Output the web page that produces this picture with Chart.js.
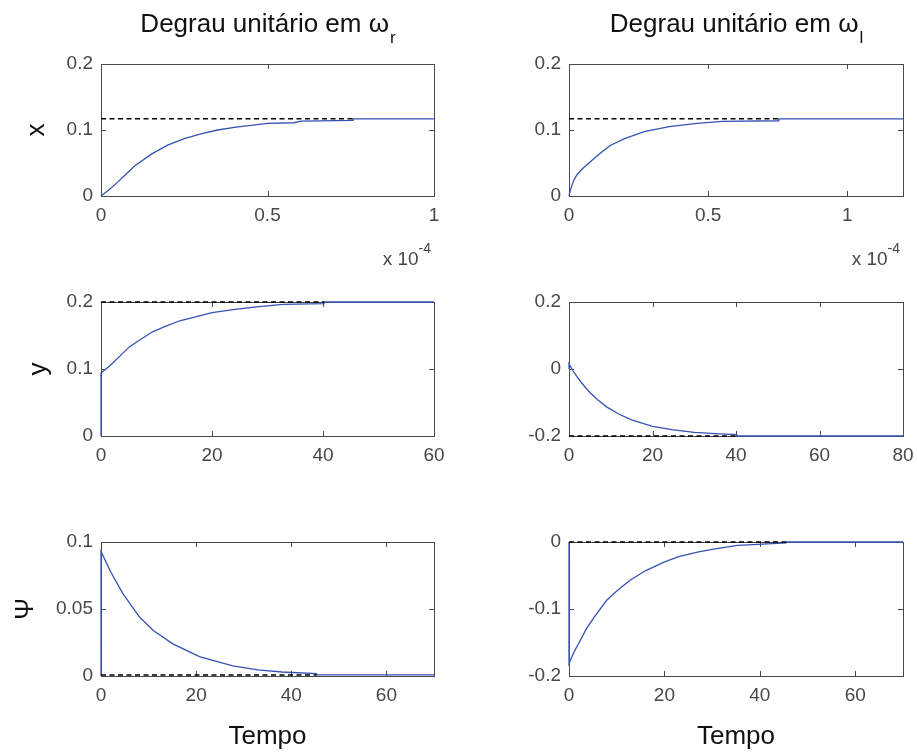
<!DOCTYPE html>
<html>
<head>
<meta charset="utf-8">
<script src="https://cdn.jsdelivr.net/npm/chart.js@4/dist/chart.umd.min.js"></script>
<style>
html, body { margin: 0; padding: 0; background: #fff; }
#wrap { position: relative; width: 917px; height: 753px; overflow: hidden; }
canvas { position: absolute; }
</style>
</head>
<body>
<div id="wrap"></div>
<script>
// time on the top row is in units of 1e-4 (see the "x 10^-4" note)
const xWrT = [0, 0.025, 0.05, 0.075, 0.1, 0.15, 0.2, 0.25, 0.3, 0.35, 0.4, 0.45, 0.5, 0.58, 0.6, 0.757, 0.757, 1.0];
const xWrV = [0, 0.010, 0.021, 0.033, 0.045, 0.063, 0.077, 0.087, 0.094, 0.100, 0.104, 0.107, 0.110, 0.111, 0.1135, 0.1145, 0.117, 0.117];
const xWrRefT = [0, 0.757];
const xWrRefV = [0.117, 0.117];

const xWlT = [0, 0.005, 0.012, 0.02, 0.03, 0.05, 0.08, 0.11, 0.148, 0.2, 0.27, 0.36, 0.46, 0.55, 0.754, 0.754, 1.2];
const xWlV = [0, 0.009, 0.018, 0.026, 0.033, 0.042, 0.053, 0.064, 0.0765, 0.087, 0.0975, 0.105, 0.110, 0.113, 0.114, 0.117, 0.117];
const xWlRefT = [0, 0.754];
const xWlRefV = [0.117, 0.117];

const yWrT = [0, 0, 1.5, 3.3, 5.1, 6.9, 9.3, 11.7, 14.2, 17.2, 20, 23.8, 28, 32.8, 40.2, 40.2, 60];
const yWrV = [0, 0.094, 0.104, 0.1185, 0.133, 0.143, 0.1555, 0.164, 0.172, 0.178, 0.184, 0.1886, 0.1926, 0.1965, 0.1975, 0.2, 0.2];
const yWrRefT = [0, 40.2];
const yWrRefV = [0.2, 0.2];

const yWlT = [0, 0, 1, 2, 3, 4, 5, 7, 9, 12, 15, 20, 25, 30, 35, 40.2, 40.2, 80];
const yWlV = [0, 0.015, -0.006, -0.024, -0.041, -0.056, -0.070, -0.093, -0.113, -0.135, -0.152, -0.171, -0.182, -0.189, -0.193, -0.196, -0.2, -0.2];
const yWlRefT = [0, 40.2];
const yWlRefV = [-0.2, -0.2];

const psiWrT = [0, 0, 2, 4.6, 8.1, 11, 15.1, 20.7, 27.7, 33, 38, 45.3, 45.3, 70];
const psiWrV = [0, 0.093, 0.078, 0.0615, 0.044, 0.034, 0.024, 0.0145, 0.0075, 0.0045, 0.003, 0.0017, 0.0008, 0.0008];
const psiWrRefT = [0, 45.3];
const psiWrRefV = [0.0008, 0.0008];

const psiWlT = [0, 0, 1, 3.7, 5.5, 7.9, 10, 12.8, 16, 19.9, 23, 26.9, 30, 35.3, 38.5, 45.5, 45.5, 70];
const psiWlV = [0, -0.1815, -0.165, -0.129, -0.110, -0.087, -0.073, -0.057, -0.043, -0.030, -0.022, -0.015, -0.011, -0.005, -0.004, -0.0015, 0, 0];
const psiWlRefT = [0, 45.5];
const psiWlRefV = [0, 0];

// tick labels
const tTicksTop = [0, 0.5, 1];
const tTicks60 = [0, 20, 40, 60];
const tTicks80 = [0, 20, 40, 60, 80];
const xTicks = [0, 0.1, 0.2];
const yTicksWr = [0, 0.1, 0.2];
const yTicksWl = [-0.2, 0, 0.2];
const psiTicksWr = [0, 0.05, 0.1];
const psiTicksWl = [-0.2, -0.1, 0];

const headings = ['Degrau unitário em ω', 'Degrau unitário em ω'];
const headingSubs = ['r', 'l'];
const rowLabels = ['x', 'y', 'Ψ'];
const timeLabel = 'Tempo';

const FONT = '"Liberation Sans", Arial, Helvetica, sans-serif';
const BLUE = '#3552b2';
const TICKCOL = '#474747';

const fmt = v => String(Math.round(v * 1e6) / 1e6);
const pts = (t, v) => t.map((x, i) => ({x: x, y: v[i]}));

// box, inward ticks, heading and exponent note
const framePlugin = {
    id: 'frame',
    beforeDatasetsDraw(chart, args, opts) {
        const {ctx, chartArea: a, scales} = chart;
        ctx.save();
        ctx.strokeStyle = '#4a4a4a';
        ctx.lineWidth = 1;
        ctx.strokeRect(a.left + 0.5, a.top + 0.5, a.right - a.left, a.bottom - a.top);
        ctx.beginPath();
        scales.x.ticks.forEach(t => {
            const px = Math.round(scales.x.getPixelForValue(t.value)) + 0.5;
            ctx.moveTo(px, a.bottom); ctx.lineTo(px, a.bottom - 5);
            ctx.moveTo(px, a.top); ctx.lineTo(px, a.top + 5);
        });
        scales.y.ticks.forEach(t => {
            const py = Math.round(scales.y.getPixelForValue(t.value)) + 0.5;
            ctx.moveTo(a.left, py); ctx.lineTo(a.left + 5, py);
            ctx.moveTo(a.right, py); ctx.lineTo(a.right - 5, py);
        });
        ctx.stroke();
        ctx.restore();
    },
    afterDraw(chart, args, opts) {
        const {ctx, chartArea: a} = chart;
        ctx.save();
        ctx.textAlign = 'left';
        ctx.textBaseline = 'alphabetic';
        if (opts.head) {
            ctx.fillStyle = '#111';
            ctx.font = '26px ' + FONT;
            const w1 = ctx.measureText(opts.head).width;
            ctx.font = '17px ' + FONT;
            const w2 = ctx.measureText(opts.sub).width;
            const x0 = (a.left + a.right) / 2 - (w1 + w2) / 2;
            ctx.font = '26px ' + FONT;
            ctx.fillText(opts.head, x0, 32);
            ctx.font = '17px ' + FONT;
            ctx.fillText(opts.sub, x0 + w1 + 1, 43);
        }
        if (opts.expo) {
            ctx.fillStyle = TICKCOL;
            ctx.font = '14px ' + FONT;
            const we = ctx.measureText('-4').width;
            const ex = a.right - 3 - we;
            ctx.fillText('-4', ex, 253);
            ctx.font = '19px ' + FONT;
            ctx.textAlign = 'right';
            ctx.fillText('x 10', ex, 265);
        }
        ctx.restore();
    }
};

// layout of the six panels (canvas placement only)
const panels = [
    {left: 0,   top: 0,   w: 450, h: 276, padTop: 64, xh: 80, t: xWrT, v: xWrV, rt: xWrRefT, rv: xWrRefV,
     xmax: 1, xt: tTicksTop, ymin: 0, ymax: 0.2, yt: xTicks, ylab: rowLabels[0], ylabPad: 21, head: headings[0], sub: headingSubs[0], expo: true},
    {left: 468, top: 0,   w: 449, h: 276, padTop: 64, xh: 80, t: xWlT, v: xWlV, rt: xWlRefT, rv: xWlRefV,
     xmax: 1.2, xt: tTicksTop, ymin: 0, ymax: 0.2, yt: xTicks, head: headings[1], sub: headingSubs[1], expo: true},
    {left: 0,   top: 282, w: 450, h: 194, padTop: 20, xh: 40, t: yWrT, v: yWrV, rt: yWrRefT, rv: yWrRefV,
     xmax: 60, xt: tTicks60, ymin: 0, ymax: 0.2, yt: yTicksWr, ylab: rowLabels[1], ylabPad: 23},
    {left: 468, top: 282, w: 449, h: 194, padTop: 20, xh: 40, t: yWlT, v: yWlV, rt: yWlRefT, rv: yWlRefV,
     xmax: 80, xt: tTicks80, ymin: -0.2, ymax: 0.2, yt: yTicksWl},
    {left: 0,   top: 522, w: 450, h: 230, padTop: 20, xh: 76, t: psiWrT, v: psiWrV, rt: psiWrRefT, rv: psiWrRefV,
     xmax: 70, xt: tTicks60, ymin: 0, ymax: 0.1, yt: psiTicksWr, ylab: rowLabels[2], ylabPad: 10, xlab: timeLabel},
    {left: 468, top: 522, w: 449, h: 230, padTop: 20, xh: 76, t: psiWlT, v: psiWlV, rt: psiWlRefT, rv: psiWlRefV,
     xmax: 70, xt: tTicks60, ymin: -0.2, ymax: 0, yt: psiTicksWl, xlab: timeLabel}
];

const wrap = document.getElementById('wrap');

panels.forEach(p => {
    const cv = document.createElement('canvas');
    cv.width = p.w;
    cv.height = p.h;
    cv.style.left = p.left + 'px';
    cv.style.top = p.top + 'px';
    wrap.appendChild(cv);

    const boxW = (p.left === 0) ? 333 : 334;
    const padRight = p.w - 101 - boxW;

    new Chart(cv, {
        type: 'line',
        data: {
            datasets: [
                {
                    data: pts(p.rt, p.rv),
                    borderColor: '#000',
                    borderWidth: 1.5,
                    borderDash: [5, 3.5],
                    pointRadius: 0,
                    tension: 0,
                    clip: 4
                },
                {
                    data: pts(p.t, p.v),
                    borderColor: BLUE,
                    borderWidth: 1.3,
                    pointRadius: 0,
                    tension: 0,
                    clip: 4
                }
            ]
        },
        options: {
            responsive: false,
            animation: false,
            devicePixelRatio: 1,
            events: [],
            layout: {padding: {top: p.padTop, right: padRight, left: 0, bottom: 0}},
            plugins: {
                legend: {display: false},
                tooltip: {enabled: false},
                frame: {head: p.head, sub: p.sub, expo: p.expo}
            },
            scales: {
                x: {
                    type: 'linear',
                    min: 0,
                    max: p.xmax,
                    grid: {display: false, drawTicks: false},
                    border: {display: false},
                    ticks: {padding: 8, color: TICKCOL, font: {family: FONT, size: 19}, maxRotation: 0, callback: v => fmt(v)},
                    afterBuildTicks: s => { s.ticks = p.xt.map(v => ({value: v})); },
                    afterFit: s => { s.height = p.xh; s.paddingLeft = 0; s.paddingRight = 0; },
                    title: {
                        display: !!p.xlab,
                        text: p.xlab || '',
                        color: '#111',
                        font: {family: FONT, size: 26, lineHeight: 1.2},
                        padding: {top: 0, bottom: 0}
                    }
                },
                y: {
                    type: 'linear',
                    min: p.ymin,
                    max: p.ymax,
                    grid: {display: false, drawTicks: false},
                    border: {display: false},
                    ticks: {padding: 8, color: TICKCOL, font: {family: FONT, size: 19}, callback: v => fmt(v)},
                    afterBuildTicks: s => { s.ticks = p.yt.map(v => ({value: v})); },
                    afterFit: s => { s.width = 101; s.paddingTop = 0; s.paddingBottom = 0; },
                    title: {
                        display: !!p.ylab,
                        text: p.ylab || '',
                        color: '#111',
                        font: {family: FONT, size: 26, lineHeight: 1.2},
                        padding: {top: p.ylabPad || 0, bottom: 0}
                    }
                }
            }
        },
        plugins: [framePlugin]
    });
});
</script>
</body>
</html>
